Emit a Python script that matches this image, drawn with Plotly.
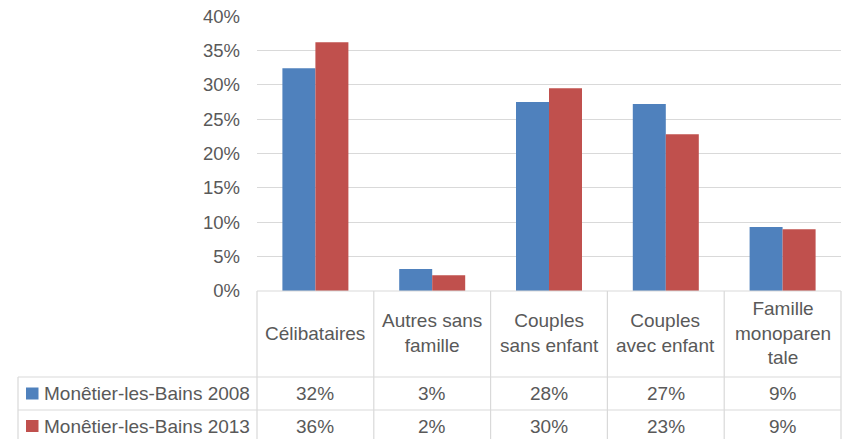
import plotly.graph_objects as go

categories = ["Célibataires", "Autres sans famille", "Couples sans enfant", "Couples avec enfant", "Famille monoparentale"]
header_labels = ["Célibataires", "Autres sans<br>famille", "Couples<br>sans enfant", "Couples<br>avec enfant", "Famille<br>monoparen<br>tale"]
series_names = ["Monêtier-les-Bains 2008", "Monêtier-les-Bains 2013"]
values_2008 = [32.4, 3.2, 27.5, 27.2, 9.3]
values_2013 = [36.2, 2.3, 29.5, 22.8, 9.0]
y_ticks = [0, 5, 10, 15, 20, 25, 30, 35, 40]

colors = ["#4F81BD", "#C0504D"]
text_color = "#595959"
grid_color = "#D9D9D9"
FONT = "Liberation Sans, Arial, sans-serif"
FS = 19

W, H = 850, 439
OFF = 8  # page body margin
# desired on-screen plot area: x 257..841, y 16..291
L = 257 - OFF
R = W - (841 - OFF)
T = 16 - OFF
B = H - (291 - OFF)
PW, PH = W - L - R, H - T - B


def px_x(px):
    return (px - OFF - L) / PW


def px_y(py):
    return (H - B - (py - OFF)) / PH


fig = go.Figure()
for name, vals, col in zip(series_names, [values_2008, values_2013], colors):
    fig.add_trace(go.Bar(x=categories, y=vals, name=name, marker=dict(color=col, line=dict(width=0)),
                         showlegend=False))

shapes = []
annotations = []
line = dict(color=grid_color, width=1.2)
n = len(categories)
for i in range(n + 1):
    shapes.append(dict(type="line", xref="paper", yref="paper", x0=i / n, x1=i / n,
                       y0=px_y(291), y1=px_y(460), line=line))
shapes.append(dict(type="line", xref="paper", yref="paper", x0=px_x(18), x1=px_x(18),
                   y0=px_y(377), y1=px_y(460), line=line))
shapes.append(dict(type="line", xref="paper", yref="paper", x0=0, x1=1,
                   y0=px_y(291), y1=px_y(291), line=line))
for py in [377, 410, 443]:
    shapes.append(dict(type="line", xref="paper", yref="paper", x0=px_x(18), x1=1,
                       y0=px_y(py), y1=px_y(py), line=line))

for cat, lab in zip(categories, header_labels):
    annotations.append(dict(x=cat, xref="x", y=px_y(333), yref="paper", text=lab, showarrow=False,
                            xanchor="center", yanchor="middle",
                            font=dict(family=FONT, size=FS, color=text_color)))

row_centers = [393.5, 426]
for r, (name, vals, col) in enumerate(zip(series_names, [values_2008, values_2013], colors)):
    yc = row_centers[r]
    shapes.append(dict(type="rect", xref="paper", yref="paper", x0=px_x(26), x1=px_x(38.5),
                       y0=px_y(yc - 6), y1=px_y(yc + 6), fillcolor=col, line=dict(width=0)))
    annotations.append(dict(x=px_x(42), xref="paper", y=px_y(yc), yref="paper", text=name,
                            showarrow=False, xanchor="left", yanchor="middle",
                            font=dict(family=FONT, size=FS, color=text_color)))
    for cat, v in zip(categories, vals):
        annotations.append(dict(x=cat, xref="x", y=px_y(yc), yref="paper", text=f"{v:.0f}%",
                                showarrow=False, xanchor="center", yanchor="middle",
                                font=dict(family=FONT, size=FS, color=text_color)))

fig.update_layout(
    width=W, height=H,
    margin=dict(l=L, r=R, t=T, b=B, autoexpand=False),
    paper_bgcolor="white", plot_bgcolor="white",
    barmode="group", bargap=0.435, bargroupgap=0,
    xaxis=dict(showticklabels=False, showgrid=False, zeroline=False, showline=False, ticks=""),
    yaxis=dict(range=[0, 40.02], tickvals=y_ticks, ticktext=[f"{t}%" for t in y_ticks],
               showgrid=True, gridcolor=grid_color, gridwidth=1.2, zeroline=False,
               showline=False, ticks="", ticklabelstandoff=16, ticklabeloverflow="allow",
               tickfont=dict(family=FONT, size=18.5, color=text_color)),
    shapes=shapes, annotations=annotations,
)

fig.write_html("out.html")
